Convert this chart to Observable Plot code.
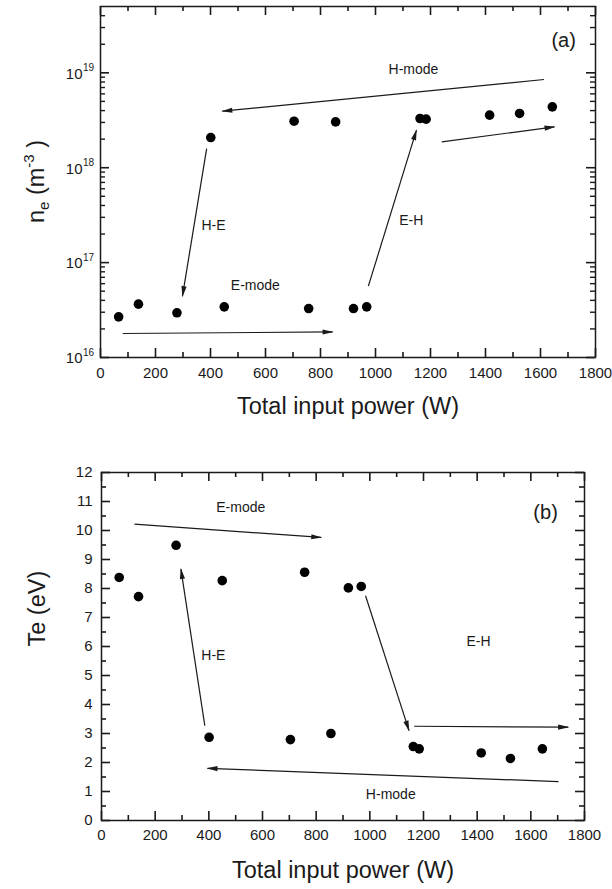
<!DOCTYPE html>
<html><head><meta charset="utf-8">
<script src="https://cdn.jsdelivr.net/npm/d3@7"></script>
<script src="https://cdn.jsdelivr.net/npm/@observablehq/plot@0.6"></script>
<style>
body{margin:0;background:#fff;}
#chart{width:612px;}
#chart svg{display:block;}
</style></head><body><div id="chart"></div><script>
// ---- data ----
const power = [66,138,278,401,450,704,757,855,920,968,1162,1184,1415,1524,1643];
const density = [2.68e16,3.65e16,2.96e16,2.08e18,3.42e16,3.09e18,3.28e16,3.04e18,3.28e16,3.42e16,3.30e18,3.25e18,3.58e18,3.73e18,4.38e18];
const temperature = [8.38,7.72,9.49,2.87,8.27,2.79,8.56,3.00,8.02,8.07,2.55,2.47,2.33,2.14,2.47];
// arrows: [x1, y1, x2, y2]
const arrowsA = [[1613,8.5e18,443,3.94e18],[1241,1.87e18,1651,2.7e18],[386,1.59e18,298,4.43e16],[974,5.65e16,1149,2.49e18],[81,1.79e16,844,1.86e16]];
const arrowsB = [[123,10.22,819,9.76],[385,3.27,296,8.67],[984,7.75,1146,3.10],[1165,3.25,1739,3.22],[1703,1.34,395,1.80]];
// annotations: [text, x, y]
const labelsA = [["H-mode",1138,1.09e19],["H-E",411,2.48e17],["E-H",1130,2.8e17],["E-mode",563,5.78e16]];
const labelsB = [["E-mode",519,10.79],["H-E",417,5.68],["E-H",1405,6.18],["H-mode",1078,0.9]];
const panelA = [["(a)",1684,2.21e19]];
const panelB = [["(b)",1655,10.63]];
// ticks
const xMajor = [0,200,400,600,800,1000,1200,1400,1600,1800];
const xMinor = [100,300,500,700,900,1100,1300,1500,1700];
const yMajorA = [1e16,1e17,1e18,1e19];
const yMinorA = [2e16,3e16,4e16,5e16,6e16,7e16,8e16,9e16,2e17,3e17,4e17,5e17,6e17,7e17,8e17,9e17,2e18,3e18,4e18,5e18,6e18,7e18,8e18,9e18,2e19,3e19,4e19];
const yMajorB = [0,1,2,3,4,5,6,7,8,9,10,11,12];
const yMinorB = [0.5,1.5,2.5,3.5,4.5,5.5,6.5,7.5,8.5,9.5,10.5,11.5];
const xTitle = "Total input power (W)";

const FONT = "Liberation Sans";
const INK = "#1a1a1a";

function headMarker(color, context) {
  const doc = (context && context.document) || document;
  const ns = "http://www.w3.org/2000/svg";
  const m = doc.createElementNS(ns, "marker");
  m.setAttribute("viewBox", "-11 -3 12 6");
  m.setAttribute("markerUnits", "userSpaceOnUse");
  m.setAttribute("markerWidth", 12);
  m.setAttribute("markerHeight", 6);
  m.setAttribute("orient", "auto");
  m.setAttribute("refX", 0);
  m.setAttribute("refY", 0);
  const p = doc.createElementNS(ns, "path");
  p.setAttribute("d", "M-10,-2.6L1,0L-10,2.6Z");
  p.setAttribute("fill", color);
  p.setAttribute("stroke", "none");
  m.appendChild(p);
  return m;
}

// ---- panel (a) ----
const fwA = 495, fhA = 351;
const svgA = Plot.plot({
  width: 612, height: 425, marginTop: 6, marginRight: 17, marginBottom: 68, marginLeft: 100,
  style: {fontFamily: FONT, color: INK, background: "white"},
  x: {domain: [0, 1800], axis: null},
  y: {type: "log", domain: [1e16, 5e19], axis: null},
  marks: [
    Plot.ruleX(xMajor, {x: d => d, insetTop: fhA - 9, stroke: INK, strokeWidth: 1.6}),
    Plot.ruleX(xMajor, {x: d => d, insetBottom: fhA - 9, stroke: INK, strokeWidth: 1.6}),
    Plot.ruleX(xMinor, {x: d => d, insetTop: fhA - 5, stroke: INK, strokeWidth: 1.6}),
    Plot.ruleX(xMinor, {x: d => d, insetBottom: fhA - 5, stroke: INK, strokeWidth: 1.6}),
    Plot.ruleY(yMajorA, {y: d => d, insetRight: fwA - 9, stroke: INK, strokeWidth: 1.6}),
    Plot.ruleY(yMajorA, {y: d => d, insetLeft: fwA - 9, stroke: INK, strokeWidth: 1.6}),
    Plot.ruleY(yMinorA, {y: d => d, insetRight: fwA - 5, stroke: INK, strokeWidth: 1.4}),
    Plot.ruleY(yMinorA, {y: d => d, insetLeft: fwA - 5, stroke: INK, strokeWidth: 1.4}),
    Plot.frame({stroke: INK, strokeWidth: 1.5}),
    Plot.text(xMajor, {x: d => d, frameAnchor: "bottom", dy: 20, lineAnchor: "bottom", text: d => String(d), fontSize: 15, fill: INK}),
    Plot.text(yMajorA, {y: d => d, frameAnchor: "left", dx: -18, dy: 1, textAnchor: "end", lineAnchor: "middle", text: d => "10", fontSize: 15, fill: INK}),
    Plot.text(yMajorA, {y: d => d, frameAnchor: "left", dx: -17.5, dy: -5, textAnchor: "start", lineAnchor: "middle", text: d => String(Math.round(Math.log10(d))), fontSize: 10, fill: INK}),
    Plot.text([xTitle], {frameAnchor: "bottom", dy: 56, lineAnchor: "bottom", text: d => d, fontSize: 23.5, fill: INK}),
    Plot.link(arrowsA, {x1: d => d[0], y1: d => d[1], x2: d => d[2], y2: d => d[3], stroke: INK, strokeWidth: 1.2, markerEnd: headMarker}),
    Plot.text(labelsA, {x: d => d[1], y: d => d[2], text: d => d[0], fontSize: 14, fill: INK, lineAnchor: "middle"}),
    Plot.text(panelA, {x: d => d[1], y: d => d[2], text: d => d[0], fontSize: 20, fill: INK, lineAnchor: "middle"}),
    Plot.dot(power, {x: power, y: density, r: 4.8, fill: "#000"})
  ]
});
// y title with sub/superscript
const tA = d3.select(svgA).append("text")
  .attr("transform", `translate(44,${6 + fhA / 2}) rotate(-90)`)
  .attr("text-anchor", "middle").attr("font-size", 23.5).attr("font-family", FONT).attr("fill", INK);
tA.append("tspan").text("n");
tA.append("tspan").attr("font-size", 15).attr("dy", 5).text("e");
tA.append("tspan").attr("dy", -5).text(" (m");
tA.append("tspan").attr("font-size", 15).attr("dy", -10).text("-3");
tA.append("tspan").attr("dy", 10).text(" )");

// ---- panel (b) ----
const fwB = 483, fhB = 348;
const svgB = Plot.plot({
  width: 612, height: 464, marginTop: 47, marginRight: 28, marginBottom: 69, marginLeft: 101,
  style: {fontFamily: FONT, color: INK, background: "white"},
  x: {domain: [0, 1800], axis: null},
  y: {domain: [0, 12], axis: null},
  marks: [
    Plot.ruleX(xMajor, {x: d => d, insetTop: fhB - 9, stroke: INK, strokeWidth: 1.6}),
    Plot.ruleX(xMajor, {x: d => d, insetBottom: fhB - 9, stroke: INK, strokeWidth: 1.6}),
    Plot.ruleX(xMinor, {x: d => d, insetTop: fhB - 5, stroke: INK, strokeWidth: 1.6}),
    Plot.ruleX(xMinor, {x: d => d, insetBottom: fhB - 5, stroke: INK, strokeWidth: 1.6}),
    Plot.ruleY(yMajorB, {y: d => d, insetRight: fwB - 9, stroke: INK, strokeWidth: 1.6}),
    Plot.ruleY(yMajorB, {y: d => d, insetLeft: fwB - 9, stroke: INK, strokeWidth: 1.6}),
    Plot.ruleY(yMinorB, {y: d => d, insetRight: fwB - 5, stroke: INK, strokeWidth: 1.6}),
    Plot.ruleY(yMinorB, {y: d => d, insetLeft: fwB - 5, stroke: INK, strokeWidth: 1.6}),
    Plot.frame({stroke: INK, strokeWidth: 1.5}),
    Plot.text(xMajor, {x: d => d, frameAnchor: "bottom", dy: 19, lineAnchor: "bottom", text: d => String(d), fontSize: 15, fill: INK}),
    Plot.text(yMajorB, {y: d => d, frameAnchor: "left", dx: -9, textAnchor: "end", lineAnchor: "middle", text: d => String(d), fontSize: 15, fill: INK}),
    Plot.text([xTitle], {frameAnchor: "bottom", dy: 57, lineAnchor: "bottom", text: d => d, fontSize: 23.5, fill: INK}),
    Plot.text(["Te (eV)"], {frameAnchor: "left", dx: -57, rotate: -90, lineAnchor: "bottom", text: d => d, fontSize: 23.5, fill: INK}),
    Plot.link(arrowsB, {x1: d => d[0], y1: d => d[1], x2: d => d[2], y2: d => d[3], stroke: INK, strokeWidth: 1.2, markerEnd: headMarker}),
    Plot.text(labelsB, {x: d => d[1], y: d => d[2], text: d => d[0], fontSize: 14, fill: INK, lineAnchor: "middle"}),
    Plot.text(panelB, {x: d => d[1], y: d => d[2], text: d => d[0], fontSize: 20, fill: INK, lineAnchor: "middle"}),
    Plot.dot(power, {x: power, y: temperature, r: 4.8, fill: "#000"})
  ]
});

const root = document.getElementById("chart");
root.appendChild(svgA);
root.appendChild(svgB);
</script></body></html>
